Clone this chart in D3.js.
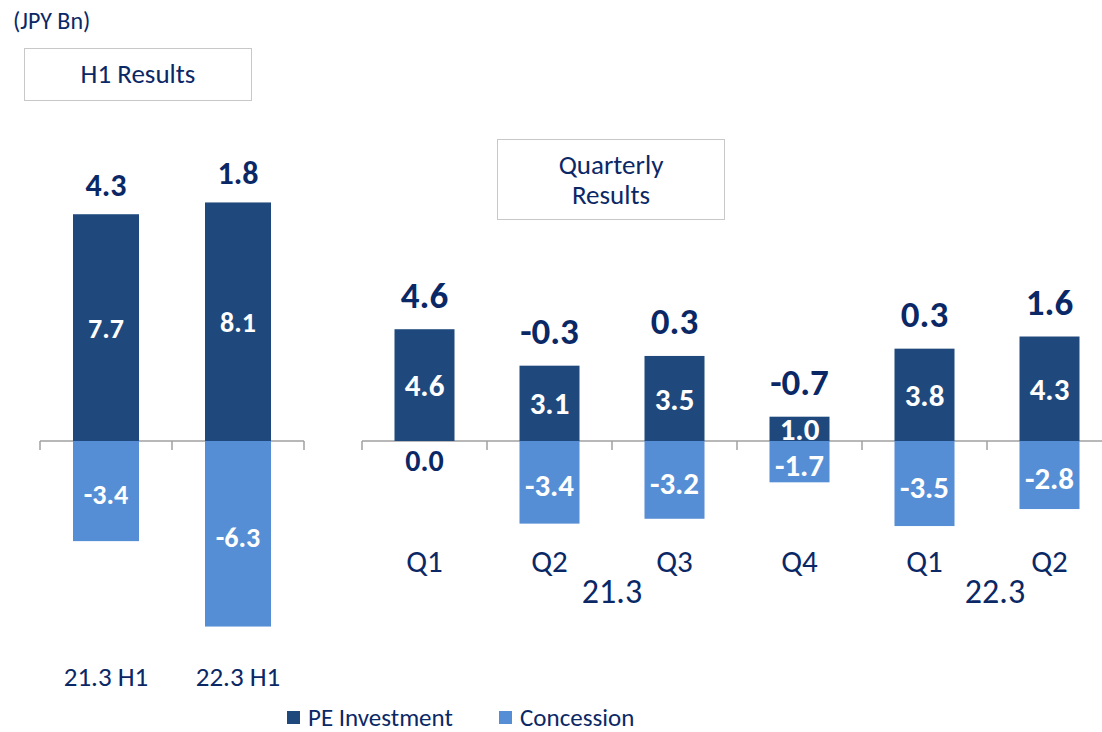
<!DOCTYPE html>
<html>
<head>
<meta charset="utf-8">
<script src="https://cdn.jsdelivr.net/npm/d3@7"></script>
<style>
  html, body { margin: 0; padding: 0; background: #fff; }
  svg text { font-family: Calibri, Carlito, Lato, sans-serif; }
</style>
</head>
<body>
<div id="chart"></div>
<script>
// Segment results (JPY Bn)
const h1Cats = ['21.3 H1', '22.3 H1'];
const h1PE = [7.7, 8.1];
const h1Conc = [-3.4, -6.3];
const h1Total = [4.3, 1.8];

const qCats = ['Q1', 'Q2', 'Q3', 'Q4', 'Q1 ', 'Q2 '];
const qLabels = ['Q1', 'Q2', 'Q3', 'Q4', 'Q1', 'Q2'];
const qPE = [4.6, 3.1, 3.5, 1.0, 3.8, 4.3];
const qConc = [0.0, -3.4, -3.2, -1.7, -3.5, -2.8];
const qTotal = [4.6, -0.3, 0.3, -0.7, 0.3, 1.6];
const yearLabels = ['21.3', '22.3'];

const peColor = '#1f497d';
const concColor = '#558ed5';
const navy = '#0b2866';
const axisColor = '#a0a0a0';

const width = 1102, height = 732;
const zeroY = 441;

const svg = d3.select('#chart').append('svg')
    .attr('width', width)
    .attr('height', height);

// Draw one panel: bars, axis, labels
function drawPanel(cats, labels, pe, conc, total, x, y, opt) {
    const g = svg.append('g');
    const bw = x.bandwidth();

    // axis line and ticks at category boundaries
    const r = x.range();
    g.append('line')
        .attr('x1', r[0]).attr('x2', opt.axisEnd)
        .attr('y1', y(0)).attr('y2', y(0))
        .attr('stroke', axisColor).attr('stroke-width', 1.5);
    d3.range(cats.length + 1).forEach(i => {
        const tx = r[0] + i * x.step();
        g.append('line')
            .attr('x1', tx).attr('x2', tx)
            .attr('y1', y(0)).attr('y2', y(0) + 9)
            .attr('stroke', axisColor).attr('stroke-width', 1.5);
    });

    // PE bars
    g.selectAll('rect.pe').data(pe).enter().append('rect')
        .attr('class', 'pe')
        .attr('x', (d, i) => x(cats[i]))
        .attr('y', d => y(Math.max(d, 0)))
        .attr('width', bw)
        .attr('height', d => Math.abs(y(d) - y(0)))
        .attr('fill', peColor);

    // Concession bars
    g.selectAll('rect.conc').data(conc).enter().append('rect')
        .attr('class', 'conc')
        .attr('x', (d, i) => x(cats[i]))
        .attr('y', d => y(Math.max(d, 0)))
        .attr('width', bw)
        .attr('height', d => Math.abs(y(d) - y(0)))
        .attr('fill', concColor);

    // value labels inside bars
    g.selectAll('text.pe').data(pe).enter().append('text')
        .attr('x', (d, i) => x(cats[i]) + bw / 2)
        .attr('y', d => (y(d) + y(0)) / 2)
        .attr('dy', '0.36em')
        .attr('text-anchor', 'middle')
        .attr('font-weight', 'bold')
        .attr('font-size', opt.innerSize)
        .attr('fill', '#fff')
        .text(d => d.toFixed(1));

    g.selectAll('text.conc').data(conc).enter().append('text')
        .attr('x', (d, i) => x(cats[i]) + bw / 2)
        .attr('y', d => d === 0 ? y(0) + 19 : (y(d) + y(0)) / 2 + 3)
        .attr('dy', '0.36em')
        .attr('text-anchor', 'middle')
        .attr('font-weight', 'bold')
        .attr('font-size', d => d === 0 ? opt.innerSize - 1 : opt.innerSize)
        .attr('fill', d => d === 0 ? navy : '#fff')
        .text(d => d.toFixed(1));

    // totals above stacks
    g.selectAll('text.total').data(total).enter().append('text')
        .attr('x', (d, i) => x(cats[i]) + bw / 2)
        .attr('y', (d, i) => y(Math.max(pe[i], 0)) - opt.totalGap)
        .attr('dy', '0.36em')
        .attr('text-anchor', 'middle')
        .attr('font-weight', 'bold')
        .attr('font-size', opt.totalSize)
        .attr('fill', navy)
        .text(d => d.toFixed(1));

    // category labels
    g.selectAll('text.cat').data(labels).enter().append('text')
        .attr('x', (d, i) => x(cats[i]) + bw / 2)
        .attr('y', opt.catY)
        .attr('dy', '0.36em')
        .attr('text-anchor', 'middle')
        .attr('font-size', opt.catSize)
        .attr('fill', navy)
        .text(d => d);

    return g;
}

// H1 panel
const xH1 = d3.scaleBand().domain(h1Cats).range([40, 304])
    .paddingInner(0.5).paddingOuter(0.25);
const yH1 = d3.scaleLinear().domain([-8, 8])
    .range([zeroY + 8 * 29.45, zeroY - 8 * 29.45]);
drawPanel(h1Cats, h1Cats, h1PE, h1Conc, h1Total, xH1, yH1, {
    axisEnd: 304, innerSize: 28, totalSize: 32, totalGap: 30, catY: 676, catSize: 27
});

// Quarterly panel
const xQ = d3.scaleBand().domain(qCats).range([362, 1112])
    .paddingInner(0.52).paddingOuter(0.26);
const yQ = d3.scaleLinear().domain([-8, 8])
    .range([zeroY + 8 * 24.3, zeroY - 8 * 24.3]);
drawPanel(qCats, qLabels, qPE, qConc, qTotal, xQ, yQ, {
    axisEnd: 1102, innerSize: 31, totalSize: 37, totalGap: 35, catY: 561, catSize: 31
});

// fiscal year group labels
const yearX = [
    (xQ(qCats[1]) + xQ(qCats[2]) + xQ.bandwidth()) / 2,
    (xQ(qCats[4]) + xQ(qCats[5]) + xQ.bandwidth()) / 2 + 8
];
svg.selectAll('text.year').data(yearLabels).enter().append('text')
    .attr('x', (d, i) => yearX[i])
    .attr('y', 591)
    .attr('dy', '0.36em')
    .attr('text-anchor', 'middle')
    .attr('font-size', 34)
    .attr('fill', navy)
    .text(d => d);

// unit
svg.append('text')
    .attr('x', 13).attr('y', 20).attr('dy', '0.36em')
    .attr('font-size', 24).attr('fill', navy)
    .text('(JPY Bn)');

// panel title boxes
svg.append('rect')
    .attr('x', 24.5).attr('y', 48.5).attr('width', 227).attr('height', 52)
    .attr('fill', '#fff').attr('stroke', '#c8c8c8');
svg.append('text')
    .attr('x', 138).attr('y', 73).attr('dy', '0.36em')
    .attr('text-anchor', 'middle')
    .attr('font-size', 27).attr('fill', navy)
    .text('H1 Results');

svg.append('rect')
    .attr('x', 497.5).attr('y', 139.5).attr('width', 227).attr('height', 80)
    .attr('fill', '#fff').attr('stroke', '#c8c8c8');
svg.append('text')
    .attr('x', 611).attr('y', 164).attr('dy', '0.36em')
    .attr('text-anchor', 'middle')
    .attr('font-size', 27).attr('fill', navy)
    .text('Quarterly');
svg.append('text')
    .attr('x', 611).attr('y', 194).attr('dy', '0.36em')
    .attr('text-anchor', 'middle')
    .attr('font-size', 27).attr('fill', navy)
    .text('Results');

// legend
const legendItems = [
    { name: 'PE Investment', color: peColor, x: 287 },
    { name: 'Concession', color: concColor, x: 499 }
];
const lg = svg.append('g');
lg.selectAll('rect').data(legendItems).enter().append('rect')
    .attr('x', d => d.x).attr('y', 711)
    .attr('width', 13).attr('height', 13)
    .attr('fill', d => d.color);
lg.selectAll('text').data(legendItems).enter().append('text')
    .attr('x', d => d.x + 21).attr('y', 717).attr('dy', '0.36em')
    .attr('font-size', 25).attr('fill', navy)
    .text(d => d.name);
</script>
</body>
</html>
